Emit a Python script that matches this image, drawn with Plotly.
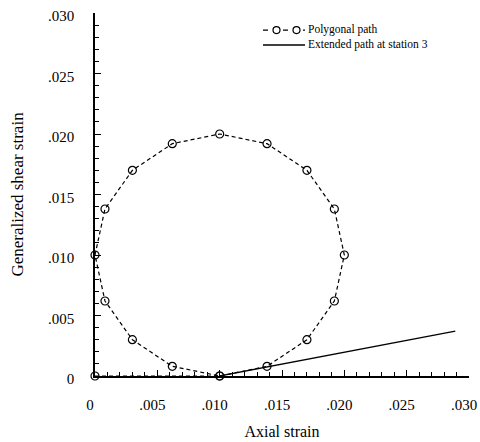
import plotly.graph_objects as go

# Polygonal strain path (axial strain, generalized shear strain)
poly_x = [0.0, 0.0100, 0.0138, 0.0170, 0.0192, 0.0200, 0.0192, 0.0170, 0.0138,
          0.0100, 0.0062, 0.0030, 0.0008, 0.0000, 0.0008, 0.0030, 0.0062, 0.0100]
poly_y = [0.0, 0.0000, 0.0008, 0.0030, 0.0062, 0.0100, 0.0138, 0.0170, 0.0192,
          0.0200, 0.0192, 0.0170, 0.0138, 0.0100, 0.0062, 0.0030, 0.0008, 0.0000]

# Extended path at station 3
ext_x = [0.0100, 0.0289]
ext_y = [0.0000, 0.0037]

tick_vals = [0, 0.005, 0.010, 0.015, 0.020, 0.025, 0.030]
tick_text = ["0", ".005", ".010", ".015", ".020", ".025", ".030"]

legend_labels = ["Polygonal path", "Extended path at station 3"]

FONT = "Liberation Serif, Times New Roman, serif"

W, H = 480, 442
ML, MR, MT, MB = 95, 11, 13, 66
PW, PH = W - ML - MR, H - MT - MB


def px(xp):
    return (xp - ML) / PW


def py(yp):
    return (H - MB - yp) / PH


fig = go.Figure()
fig.add_trace(go.Scatter(
    x=poly_x, y=poly_y, mode="lines+markers", name=legend_labels[0],
    line=dict(color="black", width=1.2, dash="4px,3px"),
    marker=dict(symbol="circle-open", size=8, color="black", line=dict(width=1.2)),
    cliponaxis=False, showlegend=False,
))
fig.add_trace(go.Scatter(
    x=ext_x, y=ext_y, mode="lines", name=legend_labels[1],
    line=dict(color="black", width=1.3),
    cliponaxis=False, showlegend=False,
))

axis_common = dict(
    showline=True, linecolor="black", linewidth=1.5,
    showgrid=False, zeroline=False,
    ticks="inside", ticklen=6, tickwidth=1.2, tickcolor="black",
    tickmode="array", tickvals=tick_vals, ticktext=tick_text,
    tickfont=dict(family=FONT, size=15, color="black"),
    minor=dict(ticks="inside", ticklen=4, tickwidth=1, tickcolor="black",
               tick0=0, dtick=0.001),
    range=[0, 0.030],
    mirror=False,
    ticklabeloverflow="allow",
    automargin=False,
)

# Hand-built compact legend (as in the reference)
LEG_FS = 11.5
line_h = 1.3 * LEG_FS
center_y = 37.5
r1, r2 = py(center_y - line_h / 2), py(center_y + line_h / 2)
shapes = [
    dict(type="line", xref="paper", yref="paper", x0=px(263), x1=px(305), y0=r1, y1=r1,
         line=dict(color="black", width=1.2, dash="5px,5px")),
    dict(type="circle", xref="paper", yref="paper", xsizemode="pixel", ysizemode="pixel",
         xanchor=px(276.5), yanchor=r1, x0=-3.5, x1=3.5, y0=-3.5, y1=3.5,
         line=dict(color="black", width=1.2), fillcolor="white"),
    dict(type="circle", xref="paper", yref="paper", xsizemode="pixel", ysizemode="pixel",
         xanchor=px(296.5), yanchor=r1, x0=-3.5, x1=3.5, y0=-3.5, y1=3.5,
         line=dict(color="black", width=1.2), fillcolor="white"),
    dict(type="line", xref="paper", yref="paper", x0=px(263), x1=px(305), y0=r2, y1=r2,
         line=dict(color="black", width=1.3)),
]
annotations = [
    dict(text="<br>".join(legend_labels), x=px(306), y=py(center_y),
         xref="paper", yref="paper", align="left",
         xanchor="left", yanchor="middle", showarrow=False,
         font=dict(family=FONT, size=LEG_FS, color="black")),
]

fig.update_layout(
    width=W, height=H,
    margin=dict(l=ML, r=MR, t=MT, b=MB, autoexpand=False),
    paper_bgcolor="white", plot_bgcolor="white",
    font=dict(family=FONT, color="black"),
    xaxis=dict(axis_common,
               title=dict(text="Axial strain", font=dict(family=FONT, size=16), standoff=14),
               ticklabelstandoff=14, ticklabelshift=-5),
    yaxis=dict(axis_common,
               title=dict(text="Generalized shear strain", font=dict(family=FONT, size=17), standoff=20),
               ticklabelstandoff=16, ticklabelshift=3),
    shapes=shapes,
    annotations=annotations,
    showlegend=False,
)

fig.write_html("out.html")
